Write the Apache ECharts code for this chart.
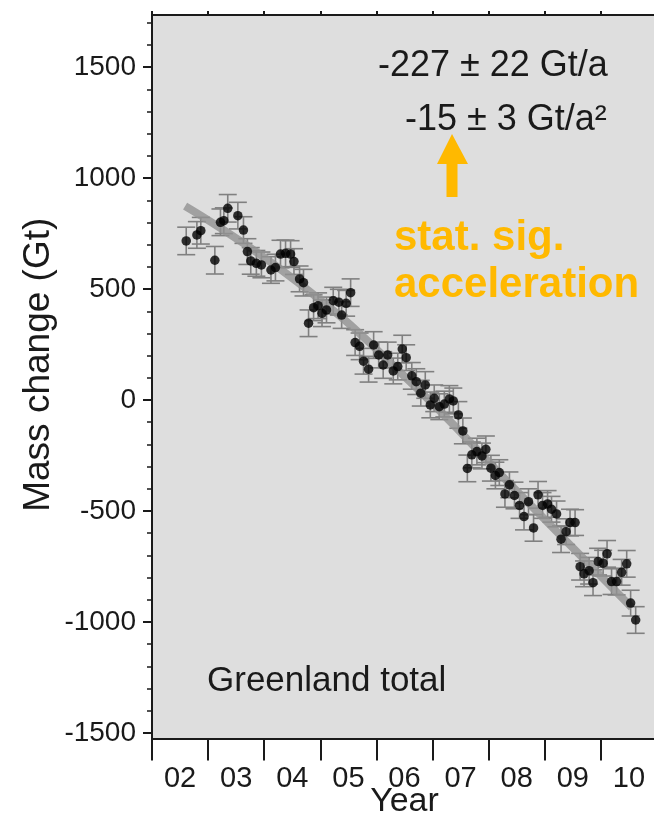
<!DOCTYPE html>
<html>
<head>
<meta charset="utf-8">
<script src="https://cdn.jsdelivr.net/npm/echarts@6/dist/echarts.min.js"></script>
<style>
html,body{margin:0;padding:0;background:#fff;}
#chart{width:654px;height:818px;}
</style>
</head>
<body>
<div id="chart"></div>
<script>
// ---- data ----
const years = [
  2002.61, 2002.80, 2002.87, 2003.12, 2003.22, 2003.28, 2003.35, 2003.53, 2003.63, 2003.70,
  2003.76, 2003.86, 2003.95, 2004.12, 2004.20, 2004.29, 2004.38, 2004.47, 2004.53, 2004.63,
  2004.70, 2004.79, 2004.88, 2004.96, 2005.03, 2005.11, 2005.23, 2005.33, 2005.38, 2005.46,
  2005.54, 2005.62, 2005.70, 2005.77, 2005.86, 2005.95, 2006.04, 2006.12, 2006.20, 2006.30,
  2006.38, 2006.46, 2006.53, 2006.63, 2006.71, 2006.79, 2006.87, 2006.96, 2007.03, 2007.12,
  2007.21, 2007.30, 2007.37, 2007.46, 2007.54, 2007.62, 2007.70, 2007.79, 2007.88, 2007.95,
  2008.04, 2008.12, 2008.19, 2008.29, 2008.37, 2008.46, 2008.55, 2008.63, 2008.71, 2008.80,
  2008.88, 2008.96, 2009.05, 2009.12, 2009.21, 2009.29, 2009.38, 2009.45, 2009.54, 2009.63,
  2009.70, 2009.79, 2009.86, 2009.95, 2010.04, 2010.11, 2010.19, 2010.28, 2010.37, 2010.46,
  2010.53, 2010.62
];
const massValues = [
  717, 744, 763, 630, 801, 808, 864, 831, 766, 669,
  627, 616, 609, 586, 597, 658, 661, 658, 624, 546,
  529, 346, 416, 425, 391, 406, 448, 441, 383, 436,
  484, 259, 242, 175, 139, 248, 203, 158, 203, 131,
  151, 230, 191, 109, 83, 31, 68, -22, 8, -30,
  -18, 5, -4, -67, -139, -308, -247, -232, -252, -222,
  -307, -340, -327, -423, -382, -430, -475, -525, -458, -576,
  -427, -475, -468, -492, -513, -627, -593, -552, -552, -751,
  -783, -769, -823, -728, -735, -693, -818, -818, -776, -738,
  -915, -991
];
const massErrors = [
  62, 60, 60, 62, 60, 58, 62, 60, 60, 58,
  60, 58, 58, 60, 60, 62, 60, 60, 58, 58,
  60, 60, 58, 58, 60, 58, 60, 58, 60, 58,
  62, 58, 60, 58, 58, 60, 58, 60, 58, 58,
  60, 62, 58, 60, 58, 58, 60, 58, 60, 58,
  58, 60, 58, 60, 58, 60, 58, 60, 58, 60,
  58, 60, 58, 60, 58, 60, 58, 60, 58, 60,
  60, 58, 60, 58, 58, 60, 58, 60, 58, 60,
  58, 60, 58, 60, 58, 60, 58, 60, 58, 60,
  58, 60
];
const trendYears  = [2002.59, 2004.60, 2006.57, 2008.50, 2010.55];
const trendValues = [874, 530, 90, -410, -935];

const yTickValues = [-1500, -1000, -500, 0, 500, 1000, 1500];
const yMinorTickValues = [-1500,-1400,-1300,-1200,-1100,-1000,-900,-800,-700,-600,-500,-400,-300,-200,-100,0,
  100,200,300,400,500,600,700,800,900,1000,1100,1200,1300,1400,1500,1600,1700];
const xTickYears = [2002, 2003, 2004, 2005, 2006, 2007, 2008, 2009, 2010, 2011];
const xLabelPositions = [2002.5, 2003.5, 2004.5, 2005.5, 2006.5, 2007.5, 2008.5, 2009.5, 2010.5];
const xTickLabels = ['02', '03', '04', '05', '06', '07', '08', '09', '10'];

const FONT = '"Liberation Sans", Arial, Helvetica, sans-serif';
const ORANGE = '#FFB900';
const INK = '#1a1a1a';

const chart = echarts.init(document.getElementById('chart'), null, {renderer: 'canvas'});

const points = years.map((y, i) => [y, massValues[i], massErrors[i]]);
const trend = trendYears.map((y, i) => [y, trendValues[i]]);

const option = {
  backgroundColor: '#ffffff',
  animation: false,
  grid: {
    left: 152, top: 15, width: 505, height: 723.5,
    outerBoundsMode: 'none', containLabel: false,
    show: true, backgroundColor: '#dedede', borderWidth: 0
  },
  xAxis: [
    {
      type: 'value', min: 2002, max: 2011, position: 'bottom',
      axisLine: {show: true, onZero: false, lineStyle: {color: INK, width: 2}},
      axisTick: {show: true, customValues: xTickYears, length: 22, lineStyle: {color: INK, width: 2}},
      axisLabel: {
        customValues: xLabelPositions, margin: 26, fontSize: 29, color: INK, fontFamily: FONT,
        formatter: v => xTickLabels[Math.round(v - 2002.5)]
      },
      splitLine: {show: false},
      name: 'Year', nameLocation: 'middle', nameGap: 46, nameMoveOverlap: false,
      nameTextStyle: {fontSize: 34, color: INK, fontFamily: FONT}
    },
    {
      type: 'value', min: 2002, max: 2011, position: 'top',
      axisLine: {show: true, onZero: false, lineStyle: {color: INK, width: 2}},
      axisTick: {show: true, customValues: xTickYears, length: 4, lineStyle: {color: INK, width: 2}},
      axisLabel: {show: false},
      splitLine: {show: false}
    }
  ],
  yAxis: [
    {
      type: 'value', min: -1525, max: 1735, position: 'left',
      axisLine: {show: true, onZero: false, lineStyle: {color: INK, width: 2}},
      axisTick: {show: true, customValues: yTickValues, length: 9, lineStyle: {color: INK, width: 2}},
      axisLabel: {customValues: yTickValues, margin: 16, fontSize: 28, color: INK, fontFamily: FONT,
        formatter: v => String(v)},
      splitLine: {show: false},
      name: 'Mass change (Gt)', nameLocation: 'middle', nameGap: 95, nameRotate: 90, nameMoveOverlap: false,
      nameTextStyle: {fontSize: 37, color: INK, fontFamily: FONT, padding: [0, 0, 0, 24]}
    },
    {
      type: 'value', min: -1525, max: 1735, position: 'left',
      axisLine: {show: false},
      axisTick: {show: true, customValues: yMinorTickValues, length: 5, lineStyle: {color: INK, width: 1.5}},
      axisLabel: {show: false},
      splitLine: {show: false}
    }
  ],
  series: [
    {
      name: 'error', type: 'custom', xAxisIndex: 0, yAxisIndex: 0, z: 2,
      data: points,
      renderItem: function (params, api) {
        const x = api.value(0), y = api.value(1), e = api.value(2);
        const top = api.coord([x, y + e]);
        const bot = api.coord([x, y - e]);
        const hw = 9;
        const style = {stroke: '#808080', lineWidth: 1.6};
        return {
          type: 'group',
          children: [
            {type: 'line', shape: {x1: top[0], y1: top[1], x2: bot[0], y2: bot[1]}, style: style},
            {type: 'line', shape: {x1: top[0] - hw, y1: top[1], x2: top[0] + hw, y2: top[1]}, style: style},
            {type: 'line', shape: {x1: bot[0] - hw, y1: bot[1], x2: bot[0] + hw, y2: bot[1]}, style: style}
          ]
        };
      }
    },
    {
      name: 'trend', type: 'line', xAxisIndex: 0, yAxisIndex: 0, z: 3,
      data: trend, smooth: true, showSymbol: false,
      lineStyle: {color: 'rgba(145,145,145,0.8)', width: 8}
    },
    {
      name: 'mass', type: 'scatter', xAxisIndex: 0, yAxisIndex: 0, z: 4,
      data: points, symbolSize: 9.5,
      itemStyle: {color: '#000'}
    }
  ],
  graphic: [
    {type: 'text', left: 378, top: 48, z: 10,
      style: {text: '-227 \u00b1 22 Gt/a', fontSize: 36, fill: INK, fontFamily: FONT}},
    {type: 'text', left: 405, top: 102, z: 10,
      style: {text: '-15 \u00b1 3 Gt/a\u00b2', fontSize: 36, fill: INK, fontFamily: FONT}},
    {type: 'polygon', z: 10, shape: {points: [[452, 134], [437, 164], [468, 164]]}, style: {fill: ORANGE}},
    {type: 'rect', z: 10, shape: {x: 446.5, y: 163, width: 11, height: 34}, style: {fill: ORANGE}},
    {type: 'text', left: 394, top: 217, z: 10,
      style: {text: 'stat. sig.', fontSize: 42, fontWeight: 'bold', fill: ORANGE, fontFamily: FONT}},
    {type: 'text', left: 394, top: 264, z: 10,
      style: {text: 'acceleration', fontSize: 42, fontWeight: 'bold', fill: ORANGE, fontFamily: FONT}},
    {type: 'text', left: 207, top: 664, z: 10,
      style: {text: 'Greenland total', fontSize: 35, fill: INK, fontFamily: FONT}}
  ]
};
chart.setOption(option);
</script>
</body>
</html>
